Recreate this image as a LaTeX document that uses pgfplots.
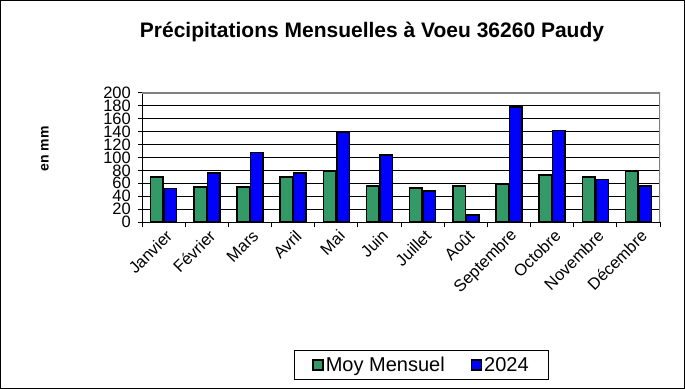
\documentclass[border=0pt]{standalone}
\usepackage{fontspec}
\setmainfont{Liberation Sans}
\usepackage{pgfplots}
\pgfplotsset{compat=1.18}
\definecolor{mgreen}{HTML}{339966}
\definecolor{mblue}{HTML}{0000FF}
\begin{document}
\begin{tikzpicture}
\useasboundingbox (0,0) rectangle (685bp,389bp);
\draw[black, line width=1bp] (0.5bp,0.5bp) rectangle (684.5bp,388.5bp);
\node[font=\fontsize{21bp}{24bp}\selectfont\bfseries] at (372bp,357bp) {Précipitations Mensuelles à Voeu 36260 Paudy};
\node[rotate=90, font=\fontsize{14bp}{16bp}\selectfont\bfseries] at (45bp,240bp) {en mm};
\begin{axis}[
  at={(142bp,167bp)}, anchor=south west,
  scale only axis, width=518bp, height=129bp,
  ybar=1bp, bar width=12.5bp,
  xmin=-0.5, xmax=11.5, ymin=0, ymax=200,
  xtick={0,...,11},
  xticklabels={Janvier,Février,Mars,Avril,Mai,Juin,Juillet,Août,Septembre,Octobre,Novembre,Décembre},
  minor xtick={-0.5,0.5,...,11.5},
  major x tick style={draw=none},
  minor x tick style={draw=black, line width=1bp},
  minor tick length=5bp,
  ytick={0,20,...,200},
  ytick style={draw=black, line width=1bp},
  major tick length=4bp,
  tick align=outside,
  ymajorgrids, grid style={black, line width=1bp},
  axis lines*=left,
  axis line style={black, line width=1bp},
  /pgf/number format/assume math mode=true,
  yticklabel style={font=\fontsize{16.5bp}{16.5bp}\selectfont, inner sep=1bp, xshift=-6bp},
  xticklabel style={font=\fontsize{16.5bp}{16.5bp}\selectfont, rotate=45, anchor=east, inner sep=1bp, yshift=-9bp, xshift=0bp},
  legend columns=2,
  legend style={at={(0.5396,-1.1085)}, anchor=center, draw=black, line width=1bp,
    font=\fontsize{20bp}{22bp}\selectfont, inner xsep=18bp, inner ysep=5bp,
    /tikz/every even column/.append style={column sep=24bp}},
  legend image code/.code={\draw[#1, line width=1.5bp] (0bp,-5bp) rectangle (10bp,5bp);},
]
\addplot[fill=mgreen, draw=black, line width=1.5bp] coordinates {
(0,70) (1,54) (2,54) (3,70) (4,79) (5,56) (6,53) (7,56) (8,59) (9,73) (10,70) (11,78)};
\addplot[fill=mblue, draw=black, line width=1.5bp] coordinates {
(0,52) (1,76) (2,108) (3,76) (4,139) (5,104) (6,48) (7,11) (8,178) (9,142) (10,66) (11,56)};
\legend{Moy Mensuel,2024}
\draw[gray, line width=1.5bp] (rel axis cs:0,1) -- (rel axis cs:1,1) -- (rel axis cs:1,0);
\end{axis}
\end{tikzpicture}
\end{document}
